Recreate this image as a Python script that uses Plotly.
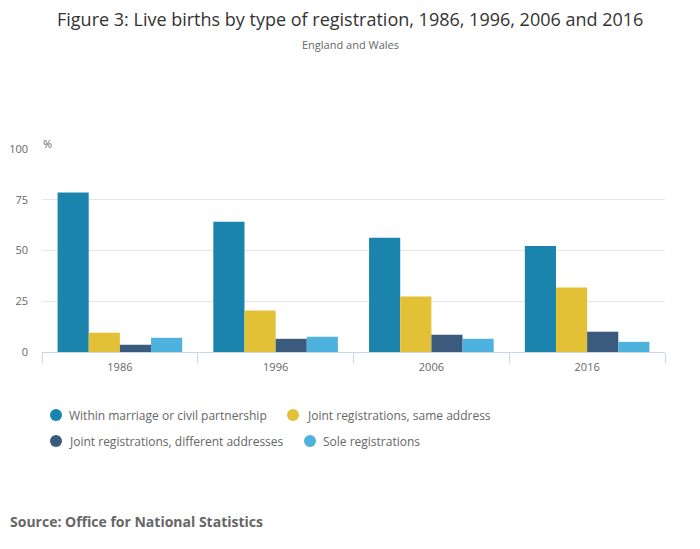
import plotly.graph_objects as go

years = ["1986", "1996", "2006", "2016"]
series_names = [
    "Within marriage or civil partnership",
    "Joint registrations, same address",
    "Joint registrations, different addresses",
    "Sole registrations",
]
within_marriage = [78.6, 64.2, 56.3, 52.2]
joint_same = [9.5, 20.4, 27.4, 31.8]
joint_different = [3.6, 6.5, 8.5, 10.0]
sole = [7.0, 7.5, 6.5, 5.0]
y_ticks = [0, 25, 50, 75, 100]

colors = ["#1b84ad", "#e2c136", "#3a5b7e", "#4db3de"]
values = [within_marriage, joint_same, joint_different, sole]

FONT = "Open Sans"
OFF = 8  # page body margin offset
W, H = 700, 549
SCREEN_PLOT = dict(x0=42, x1=665, y0=149, y1=352)
L = SCREEN_PLOT["x0"] - OFF
R = W - (SCREEN_PLOT["x1"] - OFF)
T = SCREEN_PLOT["y0"] - OFF
B = H - (SCREEN_PLOT["y1"] - OFF)
PW = SCREEN_PLOT["x1"] - SCREEN_PLOT["x0"]
PH = SCREEN_PLOT["y1"] - SCREEN_PLOT["y0"]


def sx(px):
    return (px - SCREEN_PLOT["x0"]) / PW


def sy(py):
    return (SCREEN_PLOT["y1"] - py) / PH


fig = go.Figure()
for name, vals, col in zip(series_names, values, colors):
    fig.add_trace(go.Bar(x=years, y=vals, name=name, marker_color=col,
                         marker_line_width=0, showlegend=False))

# legend layout (screen px): circle centre x, text start x, row y
legend_pos = [(56, 69, 415), (293, 307, 415), (56, 69, 441), (310, 323, 441)]
shapes = []
annotations = []
for name, col, (cx, tx, ry) in zip(series_names, colors, legend_pos):
    shapes.append(dict(type="circle", xref="paper", yref="paper",
                       xsizemode="pixel", ysizemode="pixel",
                       xanchor=sx(cx), yanchor=sy(ry),
                       x0=-6, x1=6, y0=-6, y1=6,
                       fillcolor=col, line=dict(width=0)))
    annotations.append(dict(text=name, x=sx(tx), y=sy(ry), xref="paper", yref="paper",
                            xanchor="left", yanchor="middle", showarrow=False,
                            xshift=-2,
                            font=dict(family=FONT, size=12, color="#666666")))

annotations += [
    dict(text="England and Wales", x=sx(350), y=sy(44), xref="paper", yref="paper",
         xanchor="center", yanchor="middle", showarrow=False,
         font=dict(family=FONT, size=11, color="#666666")),
    dict(text="%", x=sx(47), y=sy(143), xref="paper", yref="paper", xanchor="center",
         yanchor="middle", showarrow=False,
         font=dict(family=FONT, size=11, color="#666666")),
    dict(text="<b>Source: Office for National Statistics</b>", x=sx(10),
         y=sy(521), xref="paper", yref="paper",
         xanchor="left", yanchor="middle", showarrow=False, xshift=-2,
         font=dict(family=FONT, size=14, color="#666666")),
    dict(text="Figure 3: Live births by type of registration, 1986, 1996, 2006 and 2016",
         x=sx(350), y=sy(19), xref="paper", yref="paper",
         xanchor="center", yanchor="middle", showarrow=False,
         font=dict(family=FONT, size=18, color="#333333")),
]

fig.update_layout(
    width=W, height=H,
    margin=dict(l=L, r=R, t=T, b=B, autoexpand=False),
    paper_bgcolor="white", plot_bgcolor="white",
    barmode="group", bargap=0.2, bargroupgap=0,
    font=dict(family=FONT, color="#666666"),
    showlegend=False,
    xaxis=dict(type="category", showgrid=False, showline=True, linecolor="#ccd6eb",
               linewidth=1, ticks="outside", tickson="boundaries", ticklen=10,
               tickcolor="#ccd6eb", ticklabelstandoff=5, automargin=False,
               tickfont=dict(family=FONT, size=11, color="#666666"),
               fixedrange=True),
    yaxis=dict(range=[0, 100], tickvals=y_ticks, showgrid=True, gridcolor="#e6e6e6",
               gridwidth=1, zeroline=False, showline=False, ticks="",
               ticklabelstandoff=13, automargin=False,
               tickfont=dict(family=FONT, size=11, color="#666666"), fixedrange=True),
    shapes=shapes,
    annotations=annotations,
)

fig.write_html("out.html")
